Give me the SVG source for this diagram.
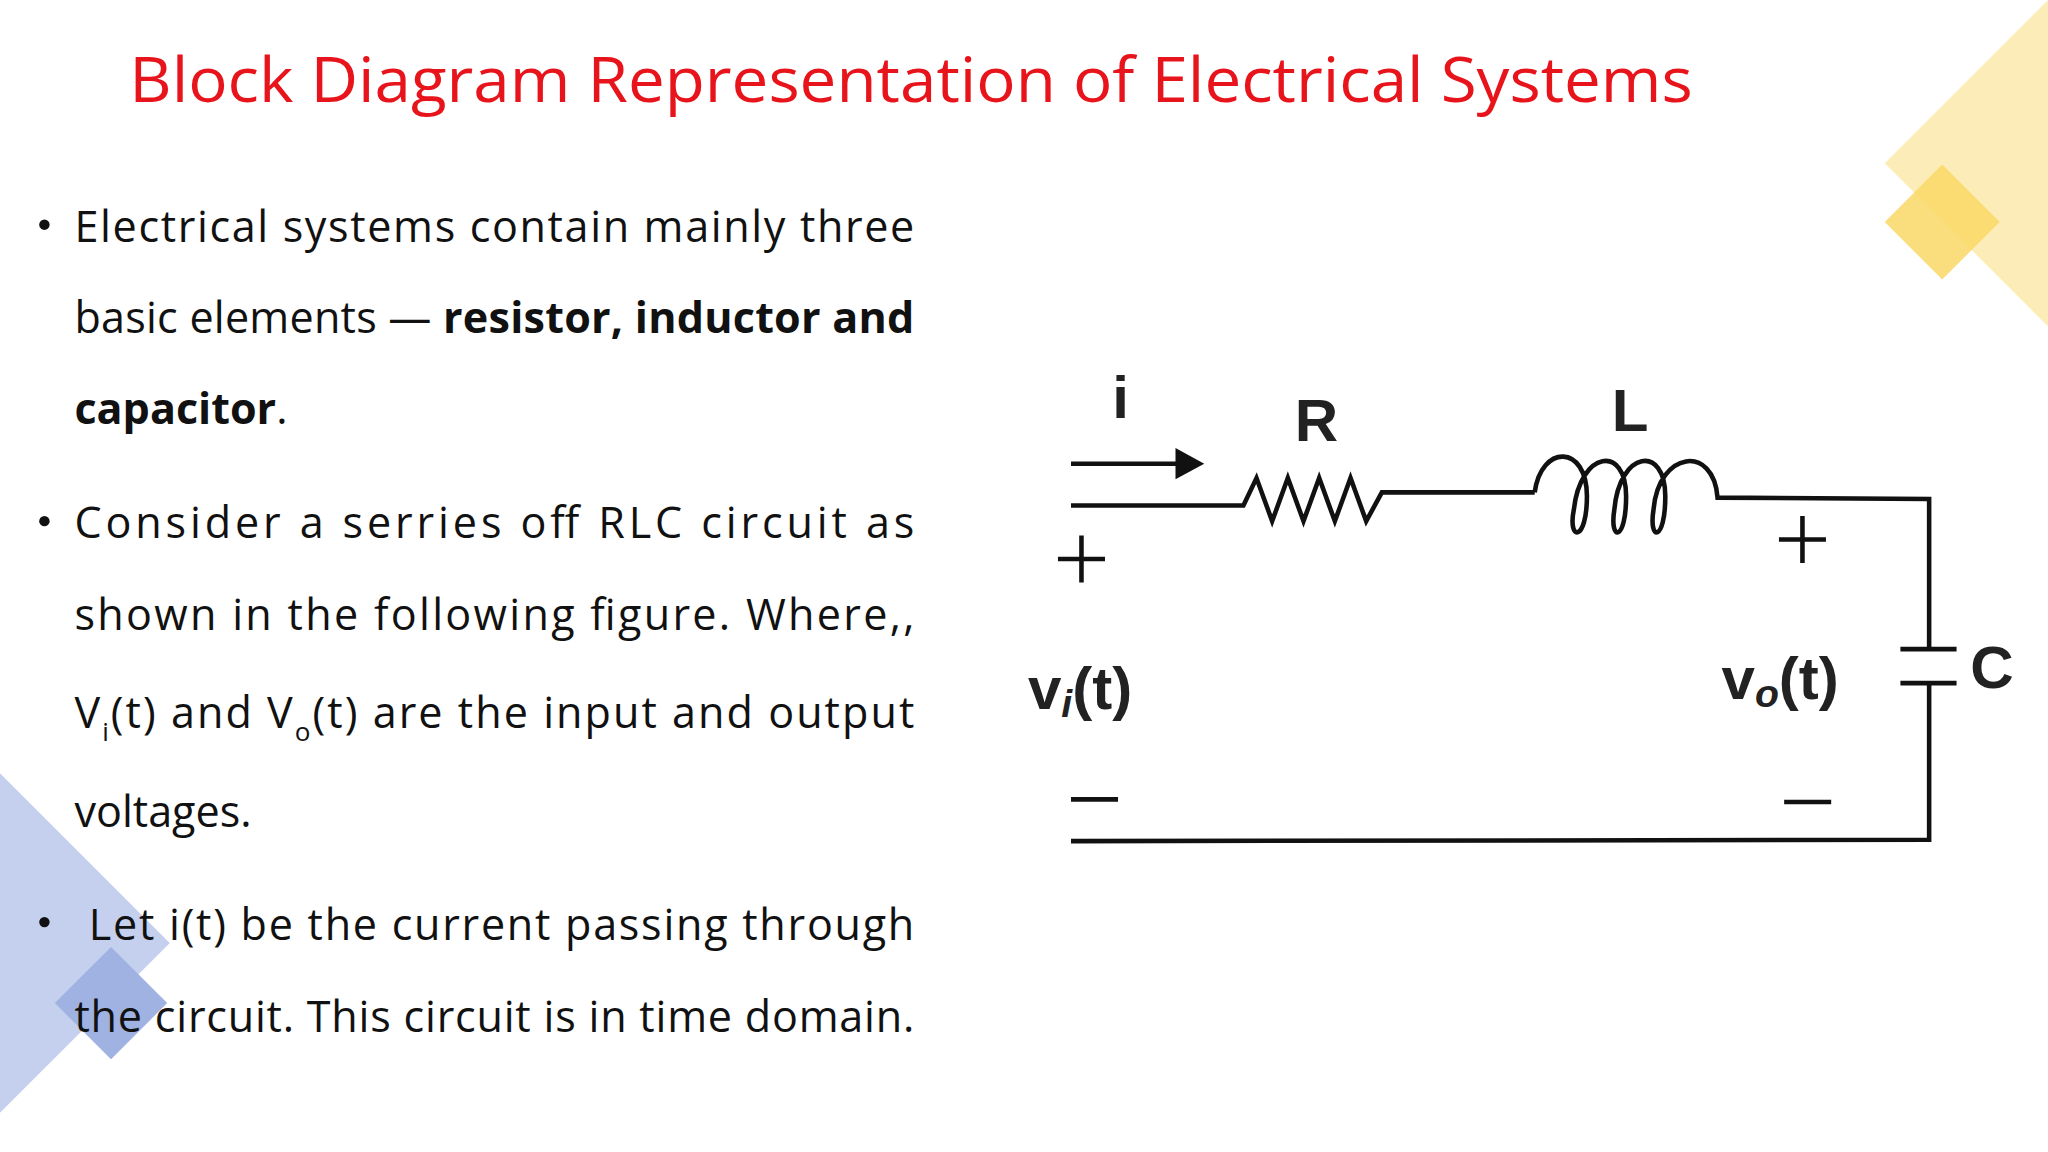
<svg xmlns="http://www.w3.org/2000/svg" width="2048" height="1152" viewBox="0 0 2048 1152">
<style>
.t{font-family:"Open Sans","Liberation Sans",sans-serif;font-size:33px;fill:#111}
.b{font-weight:bold}
.w{fill:none;stroke:#111;stroke-width:3.5}
.c{font-family:"Liberation Sans",Arial,sans-serif;font-weight:bold;fill:#222}
</style>
<rect width="2048" height="1152" fill="#fff"/>
<g transform="scale(1.30612)">
<g id="deco">
<polygon points="1443,125 1540,28 1568,0 1568,250" fill="#fbe9a6" opacity="0.8"/>
<polygon points="1487,126 1531,170 1487,214 1443,170" fill="#f9d866" opacity="0.85"/>
<polygon points="0,592 130,722 0,852" fill="#c5d0ee"/>
<polygon points="85,725 128,768 85,811 42,768" fill="#9fb2e2"/>
</g>
<text x="99" y="78" font-family="Open Sans,Liberation Sans,sans-serif" font-size="48" fill="#e8141c" textLength="1197" lengthAdjust="spacingAndGlyphs">Block Diagram Representation of Electrical Systems</text>
<g id="text">
<circle cx="34" cy="172" r="4" fill="#111"/>
<circle cx="34" cy="399" r="4" fill="#111"/>
<circle cx="34" cy="706" r="4" fill="#111"/>
<text class="t" x="57" y="185" textLength="643">Electrical systems contain mainly three</text>
<text class="t" x="57" y="255" textLength="643">basic elements — <tspan class="b">resistor, inductor and</tspan></text>
<text class="t" x="57" y="325"><tspan class="b">capacitor</tspan>.</text>
<text class="t" x="57" y="412" textLength="643">Consider a serries off RLC circuit as</text>
<text class="t" x="57" y="482" textLength="643">shown in the following figure. Where,,</text>
<text class="t" x="57" y="557" textLength="643">V<tspan font-size="20" dy="10">i</tspan><tspan dy="-10">(t) and V</tspan><tspan font-size="20" dy="10">o</tspan><tspan dy="-10">(t) are the input and output</tspan></text>
<text class="t" x="57" y="633">voltages.</text>
<text class="t" x="68" y="720" textLength="632"> Let i(t) be the current passing through</text>
<text class="t" x="57" y="790" textLength="643">the circuit. This circuit is in time domain.</text>
</g>
<g id="circuit">
<polyline class="w" points="820,387 952,387 962,366 974,399 986,366 998,399 1010,366 1022,399 1034,366 1046,399 1058,377 1175,377"/>
<path class="w" d="M1175,377 C1180,340 1215,340 1215,380 C1215,415 1200,415 1205,390 C1210,345 1245,340 1245,380 C1245,415 1232,415 1236,390 C1240,345 1275,340 1275,380 C1275,415 1262,415 1266,390 C1270,345 1312,340 1315,381 L1477,382 L1477,497"/>
<line class="w" x1="1455" y1="497" x2="1498" y2="497"/>
<line class="w" x1="1455" y1="523" x2="1498" y2="523"/>
<polyline class="w" points="1477,523 1477,643 820,644"/>
<line class="w" x1="820" y1="355" x2="905" y2="355"/>
<polygon points="922,355 900,343 900,367" fill="#111"/>
<path class="w" d="M810,428 H846 M828,410 V446 M1362,413 H1398 M1380,395 V431 M820,612 H856 M1366,614 H1402"/>
<text class="c" x="858" y="320" font-size="46" text-anchor="middle">i</text>
<text class="c" x="1008" y="338" font-size="46" text-anchor="middle">R</text>
<text class="c" x="1248" y="330" font-size="46" text-anchor="middle">L</text>
<text class="c" x="1525" y="527" font-size="46" text-anchor="middle">C</text>
<text class="c" x="787" y="543" font-size="46">v<tspan font-style="italic" font-size="30" dy="6">i</tspan><tspan dy="-6">(t)</tspan></text>
<text class="c" x="1318" y="535" font-size="46">v<tspan font-style="italic" font-size="30" dy="6">o</tspan><tspan dy="-6">(t)</tspan></text>
</g>
</g>
</svg>
